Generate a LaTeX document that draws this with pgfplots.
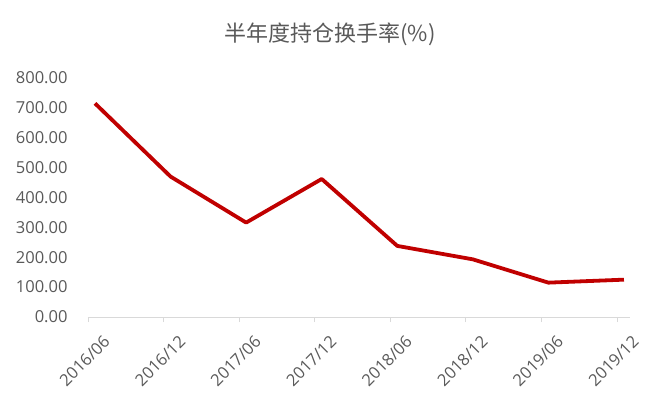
\documentclass[border=0pt]{standalone}
\usepackage{fontspec}
\setmainfont{Open Sans}
\newfontfamily\cjk{Noto Sans CJK SC}
\usepackage{pgfplots}
\pgfplotsset{compat=1.18}
\definecolor{linered}{HTML}{C00000}
\definecolor{txtgray}{HTML}{595959}
\definecolor{axgray}{HTML}{D9D9D9}
\begin{document}
\begin{tikzpicture}[x=1pt,y=1pt]
\path[use as bounding box] (-88,-88) rectangle (574,317);
\node[font=\cjk\fontsize{22}{26}\selectfont, text=txtgray] at (242,283) {半年度持仓换手率(\%)};
\begin{axis}[
  at={(0,0)}, anchor=south west,
  scale only axis, width=542pt, height=239pt,
  xmin=-0.093, xmax=7.08, ymin=0, ymax=800,
  axis x line*=bottom, axis y line*=left,
  x axis line style={draw=axgray, line width=0.75pt, -},
  y axis line style={draw=none},
  xtick={-0.093,0.907,1.907,2.907,3.907,4.907,5.907,6.907},
  xticklabels={2016/06,2016/12,2017/06,2017/12,2018/06,2018/12,2019/06,2019/12},
  xticklabel style={rotate=45, anchor=east, xshift=5pt, yshift=-25pt},
  x tick style={draw=axgray, line width=0.75pt},
  tick align=outside, major tick length=5pt,
  ytick={0,100,...,800},
  y tick style={draw=none},
  yticklabel style={xshift=-12pt, /pgf/number format/.cd, fixed, fixed zerofill, precision=2, 1000 sep={}},
  /pgf/number format/assume math mode=true,
  tick label style={font=\fontsize{16.5}{18}\selectfont, text=txtgray},
  clip=false,
]
\addplot[linered, line width=3.8pt, line join=round] coordinates {
(0,715) (1,470) (2,316) (3,462) (4,238) (5,193) (6,115) (7,125)
};
\end{axis}
\end{tikzpicture}
\end{document}
